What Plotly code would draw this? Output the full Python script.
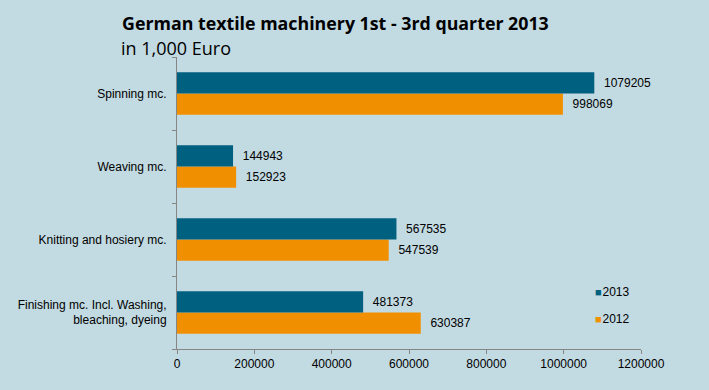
import plotly.graph_objects as go

categories = ["Finishing mc. Incl. Washing,<br>bleaching, dyeing", "Knitting and hosiery mc.", "Weaving mc.", "Spinning mc."]
values_2013 = [481373, 567535, 144943, 1079205]
values_2012 = [630387, 547539, 152923, 998069]
x_ticks = [0, 200000, 400000, 600000, 800000, 1000000, 1200000]
series_names = ["2013", "2012"]

W, H = 709, 390
ML, MR, MT, MB = 177, 68, 57, 41
PW, PH = W - ML - MR, H - MT - MB

BG = "#C2DAE2"
TEAL = "#00607F"
ORANGE = "#F09000"
LBL_FONT = dict(family="Liberation Sans, Arial, sans-serif", size=12, color="#000000")
NB = "\u00a0"


def px_x(x):
    return (x - ML) / PW


def px_y(y):
    return (H - MB - y) / PH


fig = go.Figure()
fig.add_trace(go.Bar(y=categories, x=values_2012, name="2012", orientation="h",
                     marker=dict(color=ORANGE, line=dict(width=0)),
                     text=[NB * 2 + str(v) for v in values_2012], textposition="outside",
                     textfont=LBL_FONT, cliponaxis=False, showlegend=False))
fig.add_trace(go.Bar(y=categories, x=values_2013, name="2013", orientation="h",
                     marker=dict(color=TEAL, line=dict(width=0)),
                     text=[NB * 2 + str(v) for v in values_2013], textposition="outside",
                     textfont=LBL_FONT, cliponaxis=False, showlegend=False))

annotations = [
    dict(text="<b>German textile machinery 1st - 3rd quarter 2013</b>", x=px_x(120), y=px_y(23),
         xanchor="left", yanchor="middle",
         font=dict(family="Open Sans, Lato, sans-serif", size=17.8, color="#000")),
    dict(text="in 1,000 Euro", x=px_x(119), y=px_y(48), xanchor="left", yanchor="middle",
         font=dict(family="Open Sans, Lato, sans-serif", size=18, color="#000")),
]
for name, color, ypix in [(series_names[0], TEAL, 292), (series_names[1], ORANGE, 319)]:
    annotations.append(dict(
        text=f"<span style='color:{color};font-size:11px'>■</span><span style='font-size:3px'>{NB}</span>{name}",
        x=px_x(593), y=px_y(ypix), xanchor="left", yanchor="middle",
        font=LBL_FONT))
for a in annotations:
    a.update(xref="paper", yref="paper", showarrow=False)

fig.update_layout(
    width=W, height=H,
    paper_bgcolor=BG, plot_bgcolor=BG,
    margin=dict(l=ML, r=MR, t=MT, b=MB, autoexpand=False),
    barmode="group", bargap=0.42, bargroupgap=0,
    showlegend=False,
    xaxis=dict(range=[0, 1200000], tickvals=x_ticks, ticktext=[str(v) for v in x_ticks],
               showgrid=False, zeroline=False, showline=True, linecolor="#868686", linewidth=1,
               ticks="outside", ticklen=4, tickcolor="#868686", automargin=False,
               tickfont=LBL_FONT),
    yaxis=dict(categoryorder="array", categoryarray=categories, showgrid=False,
               showline=True, linecolor="#868686", linewidth=1, automargin=False,
               ticks="outside", tickson="boundaries", ticklen=4, tickcolor="#868686",
               tickfont=LBL_FONT, ticklabelstandoff=7),
    annotations=annotations,
)

fig.write_html("out.html", config={"displayModeBar": False},
               post_script="document.body.style.margin='0';document.body.style.background='" + BG + "';")
